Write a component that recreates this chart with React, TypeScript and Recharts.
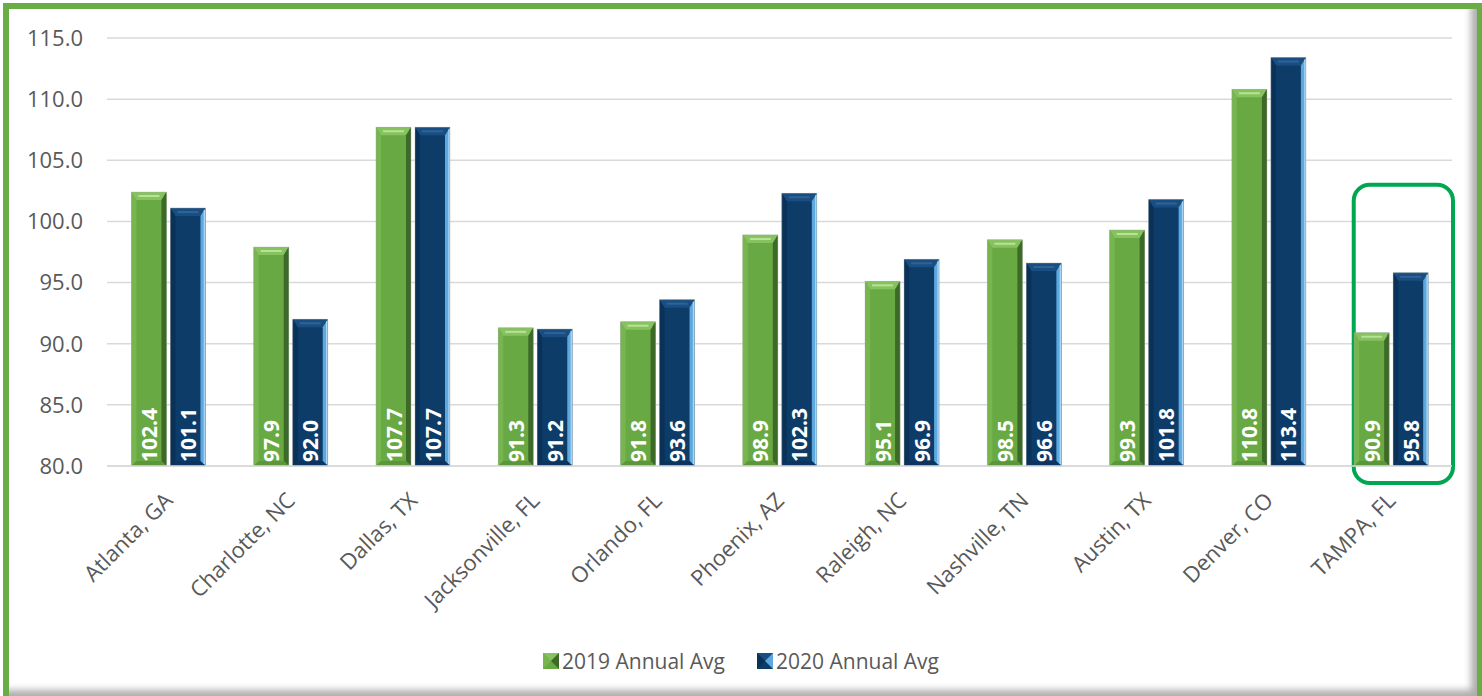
import React from "react";
import {
  BarChart,
  Bar,
  XAxis,
  YAxis,
  CartesianGrid,
  Legend,
  LabelList,
  ReferenceArea,
} from "recharts";

const categories = [
  "Atlanta, GA",
  "Charlotte, NC",
  "Dallas, TX",
  "Jacksonville, FL",
  "Orlando, FL",
  "Phoenix, AZ",
  "Raleigh, NC",
  "Nashville, TN",
  "Austin, TX",
  "Denver, CO",
  "TAMPA, FL",
];
const avg2019 = [102.4, 97.9, 107.7, 91.3, 91.8, 98.9, 95.1, 98.5, 99.3, 110.8, 90.9];
const avg2020 = [101.1, 92.0, 107.7, 91.2, 93.6, 102.3, 96.9, 96.6, 101.8, 113.4, 95.8];
const yTicks = [80, 85, 90, 95, 100, 105, 110, 115];
const seriesNames = ["2019 Annual Avg", "2020 Annual Avg"];
const highlightCategory = "TAMPA, FL";
const highlightTop = 103;
const highlightBottom = 78.6;

const data = categories.map((c, i) => ({ city: c, a: avg2019[i], b: avg2020[i] }));

const FONT = "'Open Sans', 'Liberation Sans', sans-serif";
const TEXT = "#595959";

type Pal = { body: string; top: string; hi: string; left: string; right: string; rightHi: string; bottom: string };
const GREEN: Pal = {
  body: "#69a944",
  top: "#86c25f",
  hi: "#b8e294",
  left: "#77b64f",
  right: "#3d6a28",
  rightHi: "#3d6a28",
  bottom: "#5b963a",
};
const BLUE: Pal = {
  body: "#0d3c69",
  top: "#1a4e80",
  hi: "#2d6398",
  left: "#0a3158",
  right: "#5ea8e0",
  rightHi: "#a9d6f6",
  bottom: "#0b355e",
};

const makeShape = (p: Pal) => (props: any) => {
  const { x, y, width: w, height: h } = props;
  if (!w || !h || h <= 0) return null;
  const b = Math.min(5, w / 4);
  const t = Math.min(8, h / 2);
  return (
    <g>
      <rect x={x} y={y} width={w} height={h} fill={p.body} />
      <polygon points={`${x},${y} ${x + w},${y} ${x + w - b},${y + t} ${x + b},${y + t}`} fill={p.top} />
      <line x1={x + b + 2} y1={y + t / 2} x2={x + w - b - 2} y2={y + t / 2} stroke={p.hi} strokeWidth={2} />
      <polygon points={`${x},${y} ${x + b},${y + t} ${x + b},${y + h - b} ${x},${y + h}`} fill={p.left} />
      <polygon points={`${x + w},${y} ${x + w - b},${y + t} ${x + w - b},${y + h - b} ${x + w},${y + h}`} fill={p.right} />
      <line x1={x + w - 1} y1={y + 2} x2={x + w - 1} y2={y + h - 2} stroke={p.rightHi} strokeWidth={1.5} />
      <polygon points={`${x},${y + h} ${x + b},${y + h - b} ${x + w - b},${y + h - b} ${x + w},${y + h}`} fill={p.bottom} />
      <rect x={x} y={y} width={w} height={h} fill="none" stroke="#9fa7a0" strokeOpacity={0.5} strokeWidth={0.8} />
    </g>
  );
};

const greenShape = makeShape(GREEN);
const blueShape = makeShape(BLUE);

const ValueLabel = (props: any) => {
  const { x, y, width, height, value } = props;
  const cx = x + width / 2;
  const by = y + height - 4;
  return (
    <text
      x={cx}
      y={by}
      transform={`rotate(-90 ${cx} ${by})`}
      textAnchor="start"
      dominantBaseline="central"
      fill="#ffffff"
      fontFamily={FONT}
      fontWeight={700}
      fontSize={21}
    >
      {Number(value).toFixed(1)}
    </text>
  );
};

const XTick = (props: any) => {
  const { x, y, payload } = props;
  const px = x + 6;
  const py = y + 28;
  return (
    <text
      x={px}
      y={py}
      transform={`rotate(-45 ${px} ${py})`}
      textAnchor="end"
      fill={TEXT}
      fontFamily={FONT}
      fontSize={22}
    >
      {payload.value}
    </text>
  );
};

const LegendIcon = ({ p }: { p: Pal }) => (
  <svg width={16} height={16} style={{ marginRight: 3 }}>
    <rect x={0} y={0} width={16} height={16} fill={p.body} />
    <polygon points="0,0 16,0 8,8" fill={p.top} />
    <polygon points="16,0 16,16 8,8" fill={p.right} />
    <polygon points="0,0 0,16 8,8" fill={p.left} />
  </svg>
);

const LegendContent = () => (
  <div
    style={{
      display: "flex",
      justifyContent: "center",
      alignItems: "center",
      height: 40,
      fontFamily: FONT,
      fontSize: 21,
      color: TEXT,
    }}
  >
    <span style={{ display: "flex", alignItems: "center", marginRight: 32 }}>
      <LegendIcon p={GREEN} />
      {seriesNames[0]}
    </span>
    <span style={{ display: "flex", alignItems: "center" }}>
      <LegendIcon p={BLUE} />
      {seriesNames[1]}
    </span>
  </div>
);

const HighlightShape = (props: any) => {
  const { x, y, width, height } = props;
  const inset = 24;
  return (
    <rect
      x={x + inset}
      y={y}
      width={width - inset + 1}
      height={height}
      rx={16}
      ry={16}
      fill="none"
      stroke="#00a650"
      strokeWidth={4}
    />
  );
};

export default function App() {
  return (
    <div
      style={{
        position: "absolute",
        left: 0,
        top: 0,
        width: 1482,
        height: 696,
        overflow: "hidden",
        background: "#ffffff",
      }}
    >
      <div
        style={{
          position: "absolute",
          left: 3,
          top: 3,
          width: 1480,
          height: 700,
          boxSizing: "border-box",
          border: "6px solid #6aac46",
          boxShadow: "inset -8px -9px 7px -2px rgba(0,0,0,0.32)",
        }}
      />
      <div style={{ position: "absolute", left: 0, top: 0 }}>
        <BarChart
          width={1482}
          height={696}
          data={data}
          margin={{ top: 38, right: 30, bottom: 15, left: 0 }}
          barCategoryGap="20%"
          barGap={4}
        >
          <CartesianGrid vertical={false} stroke="#d9d9d9" strokeWidth={1.5} />
          <XAxis
            dataKey="city"
            interval={0}
            height={175}
            tickLine={false}
            axisLine={{ stroke: "#d9d9d9", strokeWidth: 1.5 }}
            tick={<XTick />}
          />
          <YAxis
            width={107}
            domain={[80, 115]}
            ticks={yTicks}
            allowDataOverflow
            axisLine={false}
            tickLine={false}
            tickSize={0}
            tickMargin={24}
            tickFormatter={(v: number) => v.toFixed(1)}
            tick={{ fill: TEXT, fontFamily: FONT, fontSize: 22 }}
          />
          <Legend
            verticalAlign="bottom"
            content={<LegendContent />}
            wrapperStyle={{ left: 0, width: 1482, top: 641 }}
          />
          <Bar dataKey="a" name={seriesNames[0]} shape={greenShape} isAnimationActive={false}>
            <LabelList dataKey="a" content={<ValueLabel />} />
          </Bar>
          <Bar dataKey="b" name={seriesNames[1]} shape={blueShape} isAnimationActive={false}>
            <LabelList dataKey="b" content={<ValueLabel />} />
          </Bar>
          <ReferenceArea
            x1={highlightCategory}
            x2={highlightCategory}
            y1={highlightBottom}
            y2={highlightTop}
            ifOverflow="visible"
            shape={<HighlightShape />}
          />
        </BarChart>
      </div>
    </div>
  );
}
